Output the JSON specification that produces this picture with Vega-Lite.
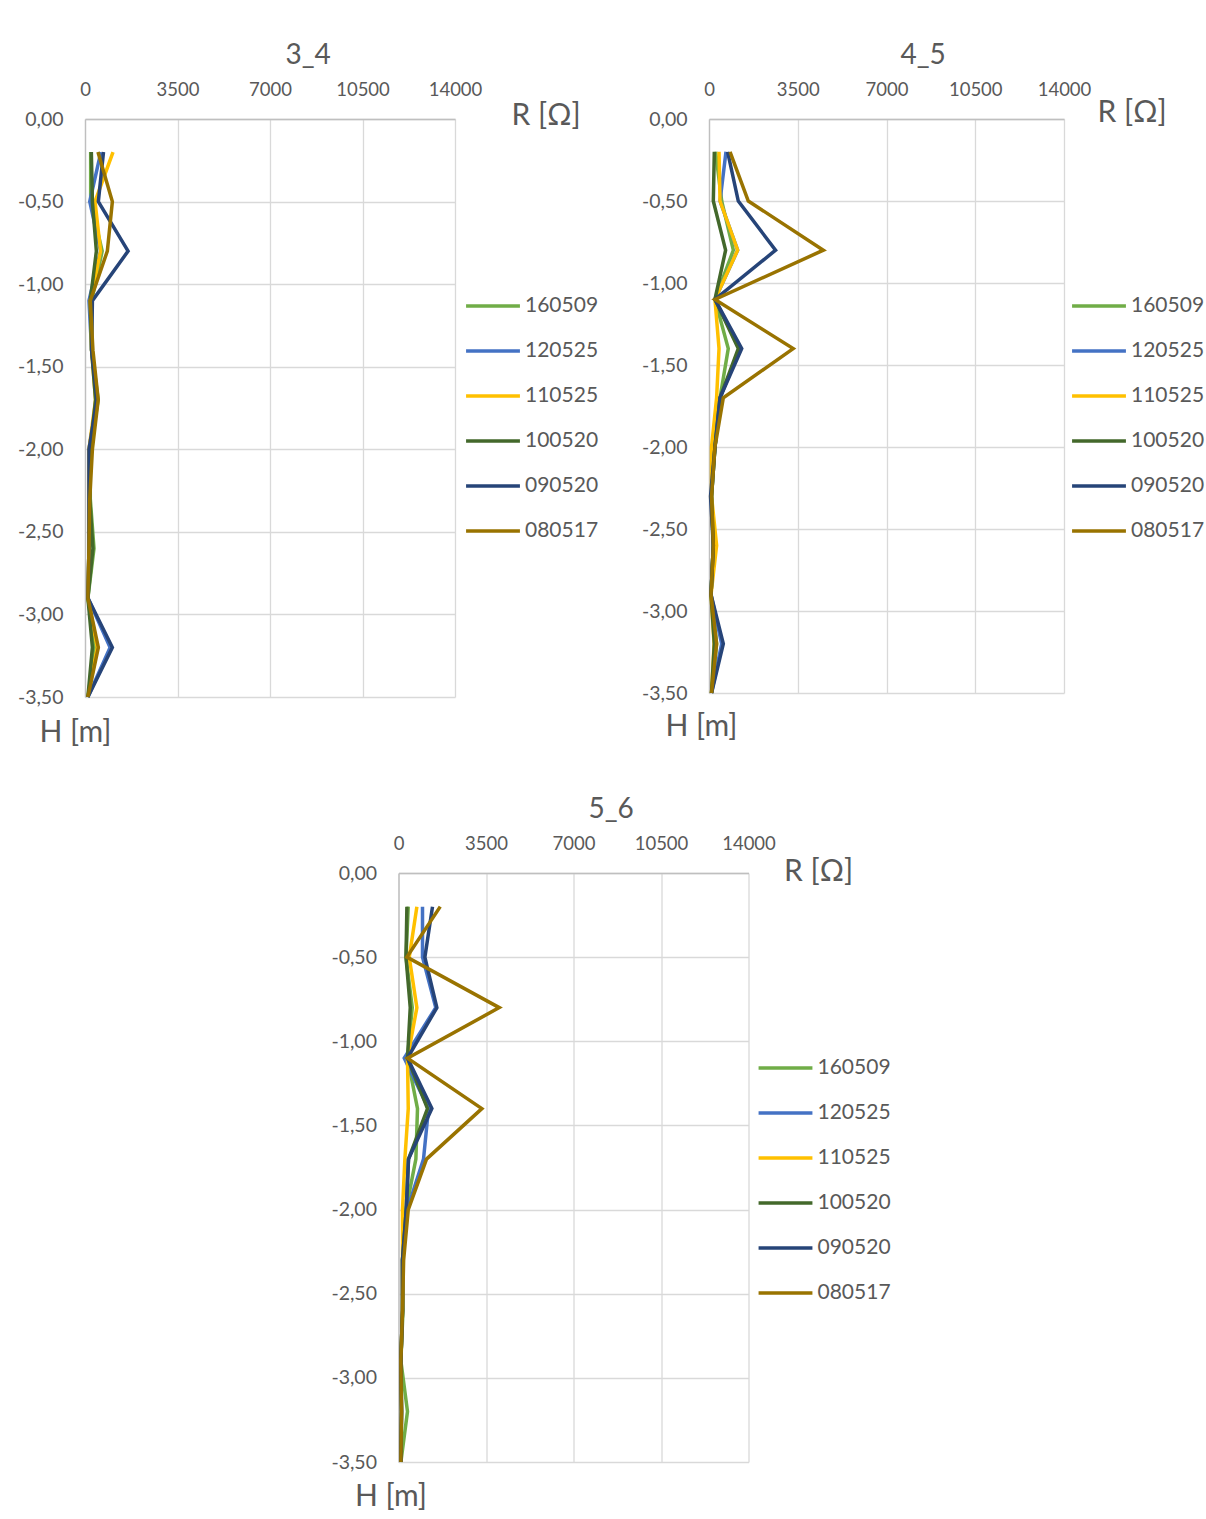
{
  "$schema": "https://vega.github.io/schema/vega-lite/v6.json",
  "background": "white",
  "padding": {"left": 17, "top": 42, "right": 0, "bottom": 0},
  "datasets": {
    "p34": [
      {"s":"160509","h":-0.2,"r":215},{"s":"160509","h":-0.5,"r":215},{"s":"160509","h":-0.8,"r":650},{"s":"160509","h":-1.1,"r":250},{"s":"160509","h":-1.4,"r":250},{"s":"160509","h":-1.7,"r":500},{"s":"160509","h":-2.0,"r":200},{"s":"160509","h":-2.3,"r":200},{"s":"160509","h":-2.6,"r":340},{"s":"160509","h":-2.9,"r":110},{"s":"160509","h":-3.2,"r":380},{"s":"160509","h":-3.5,"r":110},
      {"s":"120525","h":-0.2,"r":600},{"s":"120525","h":-0.5,"r":180},{"s":"120525","h":-0.8,"r":590},{"s":"120525","h":-1.1,"r":150},{"s":"120525","h":-1.4,"r":250},{"s":"120525","h":-1.7,"r":450},{"s":"120525","h":-2.0,"r":150},{"s":"120525","h":-2.3,"r":150},{"s":"120525","h":-2.6,"r":150},{"s":"120525","h":-2.9,"r":110},{"s":"120525","h":-3.2,"r":950},{"s":"120525","h":-3.5,"r":110},
      {"s":"110525","h":-0.2,"r":1060},{"s":"110525","h":-0.5,"r":380},{"s":"110525","h":-0.8,"r":590},{"s":"110525","h":-1.1,"r":200},{"s":"110525","h":-1.4,"r":250},{"s":"110525","h":-1.7,"r":400},{"s":"110525","h":-2.0,"r":150},{"s":"110525","h":-2.3,"r":150},{"s":"110525","h":-2.6,"r":150},{"s":"110525","h":-2.9,"r":110},{"s":"110525","h":-3.2,"r":465},{"s":"110525","h":-3.5,"r":110},
      {"s":"100520","h":-0.2,"r":240},{"s":"100520","h":-0.5,"r":280},{"s":"100520","h":-0.8,"r":430},{"s":"100520","h":-1.1,"r":200},{"s":"100520","h":-1.4,"r":250},{"s":"100520","h":-1.7,"r":400},{"s":"100520","h":-2.0,"r":200},{"s":"100520","h":-2.3,"r":180},{"s":"100520","h":-2.6,"r":300},{"s":"100520","h":-2.9,"r":110},{"s":"100520","h":-3.2,"r":280},{"s":"100520","h":-3.5,"r":110},
      {"s":"090520","h":-0.2,"r":700},{"s":"090520","h":-0.5,"r":505},{"s":"090520","h":-0.8,"r":1630},{"s":"090520","h":-1.1,"r":280},{"s":"090520","h":-1.4,"r":250},{"s":"090520","h":-1.7,"r":450},{"s":"090520","h":-2.0,"r":150},{"s":"090520","h":-2.3,"r":150},{"s":"090520","h":-2.6,"r":150},{"s":"090520","h":-2.9,"r":110},{"s":"090520","h":-3.2,"r":1035},{"s":"090520","h":-3.5,"r":110},
      {"s":"080517","h":-0.2,"r":490},{"s":"080517","h":-0.5,"r":1035},{"s":"080517","h":-0.8,"r":845},{"s":"080517","h":-1.1,"r":200},{"s":"080517","h":-1.4,"r":300},{"s":"080517","h":-1.7,"r":500},{"s":"080517","h":-2.0,"r":280},{"s":"080517","h":-2.3,"r":180},{"s":"080517","h":-2.6,"r":150},{"s":"080517","h":-2.9,"r":110},{"s":"080517","h":-3.2,"r":505},{"s":"080517","h":-3.5,"r":110}
    ],
    "p45": [
      {"s":"160509","h":-0.2,"r":260},{"s":"160509","h":-0.5,"r":500},{"s":"160509","h":-0.8,"r":960},{"s":"160509","h":-1.1,"r":235},{"s":"160509","h":-1.4,"r":760},{"s":"160509","h":-1.7,"r":435},{"s":"160509","h":-2.0,"r":235},{"s":"160509","h":-2.3,"r":100},{"s":"160509","h":-2.6,"r":170},{"s":"160509","h":-2.9,"r":80},{"s":"160509","h":-3.2,"r":300},{"s":"160509","h":-3.5,"r":100},
      {"s":"120525","h":-0.2,"r":670},{"s":"120525","h":-0.5,"r":435},{"s":"120525","h":-0.8,"r":1130},{"s":"120525","h":-1.1,"r":235},{"s":"120525","h":-1.4,"r":1220},{"s":"120525","h":-1.7,"r":435},{"s":"120525","h":-2.0,"r":235},{"s":"120525","h":-2.3,"r":100},{"s":"120525","h":-2.6,"r":170},{"s":"120525","h":-2.9,"r":80},{"s":"120525","h":-3.2,"r":500},{"s":"120525","h":-3.5,"r":100},
      {"s":"110525","h":-0.2,"r":395},{"s":"110525","h":-0.5,"r":435},{"s":"110525","h":-0.8,"r":1130},{"s":"110525","h":-1.1,"r":235},{"s":"110525","h":-1.4,"r":395},{"s":"110525","h":-1.7,"r":300},{"s":"110525","h":-2.0,"r":100},{"s":"110525","h":-2.3,"r":100},{"s":"110525","h":-2.6,"r":300},{"s":"110525","h":-2.9,"r":80},{"s":"110525","h":-3.2,"r":200},{"s":"110525","h":-3.5,"r":100},
      {"s":"100520","h":-0.2,"r":210},{"s":"100520","h":-0.5,"r":170},{"s":"100520","h":-0.8,"r":655},{"s":"100520","h":-1.1,"r":235},{"s":"100520","h":-1.4,"r":1155},{"s":"100520","h":-1.7,"r":435},{"s":"100520","h":-2.0,"r":235},{"s":"100520","h":-2.3,"r":100},{"s":"100520","h":-2.6,"r":170},{"s":"100520","h":-2.9,"r":80},{"s":"100520","h":-3.2,"r":210},{"s":"100520","h":-3.5,"r":100},
      {"s":"090520","h":-0.2,"r":735},{"s":"090520","h":-0.5,"r":1155},{"s":"090520","h":-0.8,"r":2625},{"s":"090520","h":-1.1,"r":235},{"s":"090520","h":-1.4,"r":1290},{"s":"090520","h":-1.7,"r":435},{"s":"090520","h":-2.0,"r":235},{"s":"090520","h":-2.3,"r":60},{"s":"090520","h":-2.6,"r":170},{"s":"090520","h":-2.9,"r":80},{"s":"090520","h":-3.2,"r":565},{"s":"090520","h":-3.5,"r":100},
      {"s":"080517","h":-0.2,"r":830},{"s":"080517","h":-0.5,"r":1550},{"s":"080517","h":-0.8,"r":4510},{"s":"080517","h":-1.1,"r":235},{"s":"080517","h":-1.4,"r":3320},{"s":"080517","h":-1.7,"r":565},{"s":"080517","h":-2.0,"r":235},{"s":"080517","h":-2.3,"r":100},{"s":"080517","h":-2.6,"r":170},{"s":"080517","h":-2.9,"r":80},{"s":"080517","h":-3.2,"r":300},{"s":"080517","h":-3.5,"r":100}
    ],
    "p56": [
      {"s":"160509","h":-0.2,"r":390},{"s":"160509","h":-0.5,"r":300},{"s":"160509","h":-0.8,"r":550},{"s":"160509","h":-1.1,"r":360},{"s":"160509","h":-1.4,"r":760},{"s":"160509","h":-1.7,"r":695},{"s":"160509","h":-2.0,"r":300},{"s":"160509","h":-2.3,"r":160},{"s":"160509","h":-2.6,"r":180},{"s":"160509","h":-2.9,"r":95},{"s":"160509","h":-3.2,"r":360},{"s":"160509","h":-3.5,"r":95},
      {"s":"120525","h":-0.2,"r":960},{"s":"120525","h":-0.5,"r":960},{"s":"120525","h":-0.8,"r":1490},{"s":"120525","h":-1.1,"r":230},{"s":"120525","h":-1.4,"r":1200},{"s":"120525","h":-1.7,"r":1000},{"s":"120525","h":-2.0,"r":350},{"s":"120525","h":-2.3,"r":160},{"s":"120525","h":-2.6,"r":160},{"s":"120525","h":-2.9,"r":95},{"s":"120525","h":-3.2,"r":120},{"s":"120525","h":-3.5,"r":95},
      {"s":"110525","h":-0.2,"r":735},{"s":"110525","h":-0.5,"r":430},{"s":"110525","h":-0.8,"r":735},{"s":"110525","h":-1.1,"r":360},{"s":"110525","h":-1.4,"r":390},{"s":"110525","h":-1.7,"r":255},{"s":"110525","h":-2.0,"r":160},{"s":"110525","h":-2.3,"r":160},{"s":"110525","h":-2.6,"r":160},{"s":"110525","h":-2.9,"r":95},{"s":"110525","h":-3.2,"r":120},{"s":"110525","h":-3.5,"r":95},
      {"s":"100520","h":-0.2,"r":336},{"s":"100520","h":-0.5,"r":300},{"s":"100520","h":-0.8,"r":470},{"s":"100520","h":-1.1,"r":360},{"s":"100520","h":-1.4,"r":1160},{"s":"100520","h":-1.7,"r":400},{"s":"100520","h":-2.0,"r":310},{"s":"100520","h":-2.3,"r":160},{"s":"100520","h":-2.6,"r":160},{"s":"100520","h":-2.9,"r":95},{"s":"100520","h":-3.2,"r":120},{"s":"100520","h":-3.5,"r":95},
      {"s":"090520","h":-0.2,"r":1360},{"s":"090520","h":-0.5,"r":1055},{"s":"090520","h":-0.8,"r":1535},{"s":"090520","h":-1.1,"r":360},{"s":"090520","h":-1.4,"r":1335},{"s":"090520","h":-1.7,"r":400},{"s":"090520","h":-2.0,"r":310},{"s":"090520","h":-2.3,"r":160},{"s":"090520","h":-2.6,"r":160},{"s":"090520","h":-2.9,"r":95},{"s":"090520","h":-3.2,"r":120},{"s":"090520","h":-3.5,"r":95},
      {"s":"080517","h":-0.2,"r":1670},{"s":"080517","h":-0.5,"r":336},{"s":"080517","h":-0.8,"r":4030},{"s":"080517","h":-1.1,"r":360},{"s":"080517","h":-1.4,"r":3335},{"s":"080517","h":-1.7,"r":1120},{"s":"080517","h":-2.0,"r":390},{"s":"080517","h":-2.3,"r":205},{"s":"080517","h":-2.6,"r":160},{"s":"080517","h":-2.9,"r":95},{"s":"080517","h":-3.2,"r":120},{"s":"080517","h":-3.5,"r":95}
    ]
  },
  "vconcat": [
    {
      "hconcat": [
        {
          "data": {"name": "p34"},
          "width": 370,
          "height": 578,
          "title": {"text": "3_4"},
          "mark": {"type": "line", "strokeWidth": 3.5},
          "encoding": {
            "x": {"field": "r", "type": "quantitative", "scale": {"domain": [0, 14000], "nice": false},
                  "axis": {"orient": "top", "values": [0, 3500, 7000, 10500, 14000], "format": "d", "title": "R [Ω]", "titleX": 426, "titleY": -4}},
            "y": {"field": "h", "type": "quantitative", "scale": {"domain": [-3.5, 0], "nice": false},
                  "axis": {"values": [0, -0.5, -1, -1.5, -2, -2.5, -3, -3.5], "labelExpr": "replace(replace(format(datum.value, '.2f'), '.', ','), '−', '-')", "title": "H [m]", "titleX": -46, "titleY": 613}},
            "color": {"field": "s", "type": "nominal",
                      "scale": {"domain": ["160509", "120525", "110525", "100520", "090520", "080517"], "range": ["#70AD47", "#4472C4", "#FFC000", "#43682B", "#264478", "#997300"]},
                      "legend": {"legendX": 379, "legendY": 158}},
            "order": {"field": "h", "sort": "descending"}
          }
        },
        {
          "data": {"name": "p45"},
          "width": 355,
          "height": 574,
          "title": {"text": "4_5"},
          "mark": {"type": "line", "strokeWidth": 3.5},
          "encoding": {
            "x": {"field": "r", "type": "quantitative", "scale": {"domain": [0, 14000], "nice": false},
                  "axis": {"orient": "top", "values": [0, 3500, 7000, 10500, 14000], "format": "d", "title": "R [Ω]", "titleX": 388, "titleY": -7}},
            "y": {"field": "h", "type": "quantitative", "scale": {"domain": [-3.5, 0], "nice": false},
                  "axis": {"values": [0, -0.5, -1, -1.5, -2, -2.5, -3, -3.5], "labelExpr": "replace(replace(format(datum.value, '.2f'), '.', ','), '−', '-')", "title": "H [m]", "titleX": -44, "titleY": 607}},
            "color": {"field": "s", "type": "nominal",
                      "scale": {"domain": ["160509", "120525", "110525", "100520", "090520", "080517"], "range": ["#70AD47", "#4472C4", "#FFC000", "#43682B", "#264478", "#997300"]},
                      "legend": {"legendX": 361, "legendY": 158}},
            "order": {"field": "h", "sort": "descending"}
          }
        }
      ],
      "spacing": 42,
      "resolve": {"scale": {"color": "independent"}, "legend": {"color": "independent"}}
    },
    {
      "data": {"name": "p56"},
      "width": 350,
      "height": 589,
      "title": {"text": "5_6"},
      "mark": {"type": "line", "strokeWidth": 3.5},
      "encoding": {
        "x": {"field": "r", "type": "quantitative", "scale": {"domain": [0, 14000], "nice": false},
              "axis": {"orient": "top", "values": [0, 3500, 7000, 10500, 14000], "format": "d", "title": "R [Ω]", "titleX": 385, "titleY": -2}},
        "y": {"field": "h", "type": "quantitative", "scale": {"domain": [-3.5, 0], "nice": false},
              "axis": {"values": [0, -0.5, -1, -1.5, -2, -2.5, -3, -3.5], "labelExpr": "replace(replace(format(datum.value, '.2f'), '.', ','), '−', '-')", "title": "H [m]", "titleX": -44, "titleY": 623}},
        "color": {"field": "s", "type": "nominal",
                  "scale": {"domain": ["160509", "120525", "110525", "100520", "090520", "080517"], "range": ["#70AD47", "#4472C4", "#FFC000", "#43682B", "#264478", "#997300"]},
                  "legend": {"legendX": 358, "legendY": 166}},
        "order": {"field": "h", "sort": "descending"}
      }
    }
  ],
  "spacing": 49,
  "center": true,
  "resolve": {"scale": {"color": "independent"}, "legend": {"color": "independent"}},
  "config": {
    "font": "Lato",
    "view": {"stroke": null},
    "title": {"fontSize": 28, "fontWeight": "normal", "color": "#595959", "frame": "bounds", "anchor": "middle", "offset": 10},
    "axis": {
      "labelFontSize": 18.5,
      "labelColor": "#595959",
      "labelFlush": false,
      "labelOverlap": false,
      "labelBound": false,
      "ticks": false,
      "grid": true,
      "gridColor": "#D9D9D9",
      "gridWidth": 1.3,
      "domainColor": "#BFBFBF",
      "domainWidth": 1.3,
      "titleFontSize": 30,
      "titleFontWeight": "normal",
      "titleColor": "#595959",
      "titleAngle": 0,
      "titleAlign": "left",
      "titleBaseline": "middle"
    },
    "axisX": {"labelPadding": 20},
    "axisY": {"labelPadding": 22, "labelFontSize": 19.5},
    "legend": {
      "orient": "none",
      "title": null,
      "symbolType": "stroke",
      "symbolSize": 2900,
      "symbolStrokeWidth": 3.5,
      "labelFontSize": 21,
      "labelColor": "#595959",
      "labelOffset": 3,
      "rowPadding": 6
    }
  }
}
